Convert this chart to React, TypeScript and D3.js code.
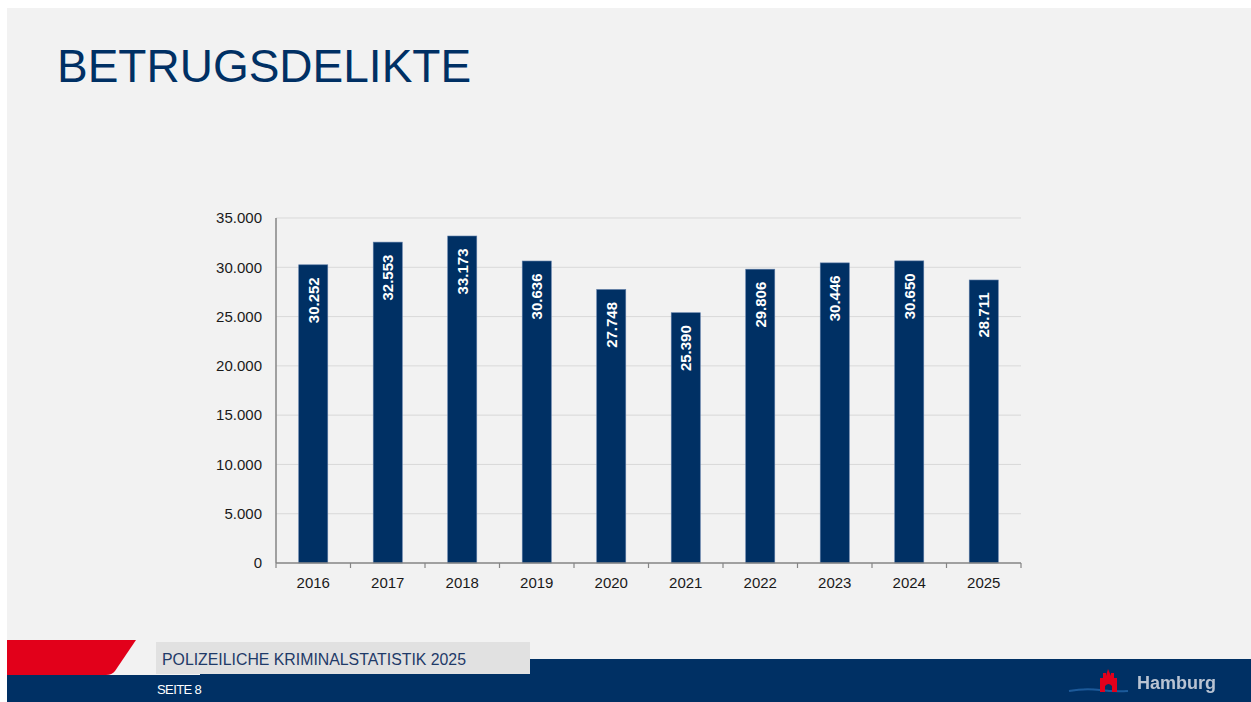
import React from "react";
import * as d3 from "d3";

const years = ["2016", "2017", "2018", "2019", "2020", "2021", "2022", "2023", "2024", "2025"];
const cases = [30252, 32553, 33173, 30636, 27748, 25390, 29806, 30446, 30650, 28711];
const yTicks = [0, 5000, 10000, 15000, 20000, 25000, 30000, 35000];

const NAVY = "#003064";
const FONT = "'Liberation Sans', Arial, sans-serif";

const fmt = (v: number) => d3.format(",")(v).replace(/,/g, ".");

const App = () => {
  const svgRef = React.useRef<SVGSVGElement>(null);
  const plot = { left: 276, right: 1021, top: 218, bottom: 563 };

  React.useEffect(() => {
    const x = d3.scaleBand().domain(years).range([plot.left, plot.right]).paddingInner(0.61).paddingOuter(0.305);
    const xTicks = d3.scaleBand().domain(years).range([plot.left, plot.right]);
    const y = d3.scaleLinear().domain([0, 35000]).range([plot.bottom, plot.top]);

    const svg = d3.select(svgRef.current);
    svg.selectAll(".chart").remove();
    const g = svg.append("g").attr("class", "chart");

    // grid lines
    g.selectAll(".grid")
      .data(yTicks.filter((t) => t > 0))
      .enter()
      .append("line")
      .attr("x1", plot.left)
      .attr("x2", plot.right)
      .attr("y1", (d) => y(d))
      .attr("y2", (d) => y(d))
      .attr("stroke", "#d9d9d9")
      .attr("stroke-width", 1);

    // y labels
    g.selectAll(".ylab")
      .data(yTicks)
      .enter()
      .append("text")
      .attr("x", 262)
      .attr("y", (d) => y(d))
      .attr("dy", "0.35em")
      .attr("text-anchor", "end")
      .attr("font-family", FONT)
      .attr("font-size", 15)
      .attr("fill", "#1a1a1a")
      .text((d) => fmt(d));

    // bars
    g.selectAll(".bar")
      .data(cases)
      .enter()
      .append("rect")
      .attr("x", (_, i) => x(years[i])!)
      .attr("width", x.bandwidth())
      .attr("y", (d) => y(d))
      .attr("height", (d) => y(0) - y(d))
      .attr("fill", NAVY)
      .attr("stroke", "#5a7aa6")
      .attr("stroke-width", 0.6);

    // bar value labels
    g.selectAll(".val")
      .data(cases)
      .enter()
      .append("text")
      .attr("transform", (d, i) => `translate(${x(years[i])! + x.bandwidth() / 2},${y(d) + 12.5}) rotate(-90)`)
      .attr("text-anchor", "end")
      .attr("dy", "0.36em")
      .attr("font-family", FONT)
      .attr("font-weight", "bold")
      .attr("font-size", 15)
      .attr("fill", "#ffffff")
      .text((d) => fmt(d));

    // axes
    const axisColor = "#858585";
    g.append("line")
      .attr("x1", plot.left)
      .attr("x2", plot.left)
      .attr("y1", plot.top)
      .attr("y2", plot.bottom)
      .attr("stroke", axisColor)
      .attr("stroke-width", 1.5);
    g.append("line")
      .attr("x1", plot.left)
      .attr("x2", plot.right)
      .attr("y1", plot.bottom)
      .attr("y2", plot.bottom)
      .attr("stroke", axisColor)
      .attr("stroke-width", 1.5);
    const tickPos = years.map((yr) => xTicks(yr)!).concat([plot.right]);
    g.selectAll(".xtick")
      .data(tickPos)
      .enter()
      .append("line")
      .attr("x1", (d) => d)
      .attr("x2", (d) => d)
      .attr("y1", plot.bottom)
      .attr("y2", plot.bottom + 5)
      .attr("stroke", axisColor)
      .attr("stroke-width", 1.2);

    g.selectAll(".xlab")
      .data(years)
      .enter()
      .append("text")
      .attr("x", (d) => xTicks(d)! + xTicks.bandwidth() / 2)
      .attr("y", 588)
      .attr("text-anchor", "middle")
      .attr("font-family", FONT)
      .attr("font-size", 15)
      .attr("fill", "#1a1a1a")
      .text((d) => d);
  }, []);

  return (
    <svg
      ref={svgRef}
      width={1251}
      height={702}
      style={{ position: "absolute", left: 0, top: 0, display: "block" }}
    >
      <defs>
        <filter id="soft" x="-10%" y="-10%" width="120%" height="120%">
          <feGaussianBlur stdDeviation="0.6" />
        </filter>
      </defs>
      <rect x={0} y={0} width={1251} height={702} fill="#ffffff" />
      <rect x={7} y={8} width={1244} height={694} fill="#f2f2f2" />

      <text x={57} y={82} fontFamily={FONT} fontSize={46} fill={NAVY}>
        BETRUGSDELIKTE
      </text>

      {/* footer */}
      <rect x={7} y={675} width={1244} height={27} fill={NAVY} />
      <rect x={200} y={659} width={1051} height={43} fill={NAVY} />
      <path d="M7,640 L136,640 L115,671 Q112,675 106,675 L7,675 Z" fill="#e2001a" />
      <rect x={156} y={642} width={374} height={32} fill="#e1e1e1" />
      <text
        x={162}
        y={665}
        fontFamily={FONT}
        fontSize={16}
        fill="#1f3a68"
        textLength={304}
        lengthAdjust="spacingAndGlyphs"
      >
        POLIZEILICHE KRIMINALSTATISTIK 2025
      </text>
      <text x={157} y={694} fontFamily={FONT} fontSize={13} fill="#ffffff" letterSpacing={-0.6}>
        SEITE 8
      </text>

      {/* Hamburg logo */}
      <g filter="url(#soft)">
        <path d="M1069,691 Q1085,688 1100,690 T1128,691" stroke="#1d5a9a" strokeWidth={2} fill="none" />
        <path
          d="M1100,692 L1100,678 L1103,678 L1103,673 L1106,673 L1106,676 L1108,669 L1111,676 L1111,673 L1114,673 L1114,678 L1117,678 L1117,692 L1112,692 L1112,686 Q1108.5,682 1105,686 L1105,692 Z"
          fill="#e2001a"
        />
        <text x={1137} y={689} fontFamily={FONT} fontSize={18} fontWeight="bold" fill="#b9c3d2">
          Hamburg
        </text>
      </g>
    </svg>
  );
};

export default App;
